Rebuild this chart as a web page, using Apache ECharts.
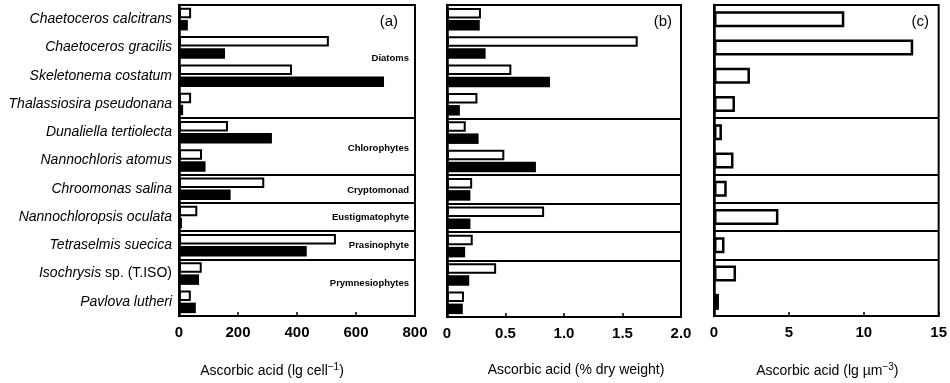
<!DOCTYPE html>
<html>
<head>
<meta charset="utf-8">
<script src="https://cdn.jsdelivr.net/npm/echarts@6/dist/echarts.min.js"></script>
<style>html,body{margin:0;padding:0;background:#fff}#c{width:950px;height:383px}</style>
</head>
<body>
<div id="c"></div>
<script>
const categories = [
  'Chaetoceros calcitrans', 'Chaetoceros gracilis', 'Skeletonema costatum',
  'Thalassiosira pseudonana', 'Dunaliella tertiolecta', 'Nannochloris atomus',
  'Chroomonas salina', 'Nannochloropsis oculata', 'Tetraselmis suecica',
  'Isochrysis sp. (T.ISO)', 'Pavlova lutheri'
];
// panel (a): ascorbic acid per cell
const cellOpen   = [41, 508, 383, 41, 166, 78, 289, 62, 532, 77, 40];
const cellFilled = [30, 156, 695, 14, 315, 90, 175, 10, 433, 68, 57];
// panel (b): % dry weight
const dryOpen    = [0.29, 1.63, 0.55, 0.26, 0.16, 0.49, 0.215, 0.83, 0.22, 0.42, 0.145];
const dryFilled  = [0.28, 0.33, 0.88, 0.11, 0.27, 0.76, 0.20, 0.20, 0.155, 0.19, 0.135];
// panel (c): per cell volume
const volOpen    = [8.7, 13.3, 2.4, 1.4, 0.53, 1.3, 0.85, 4.3, 0.7, 1.47, 0.33];
// first category index of each new algal group (divider lines)
const groupStarts = [4, 6, 7, 8, 9];
const groupNames = ['Diatoms', 'Chlorophytes', 'Cryptomonad', 'Eustigmatophyte', 'Prasinophyte', 'Prymnesiophytes'];
const panelTags = ['(a)', '(b)', '(c)'];

const FONT = 'Liberation Sans, Arial, Helvetica, sans-serif';
const chart = echarts.init(document.getElementById('c'));

const grids = [
  {left: 179, width: 236, top: 5, height: 312},
  {left: 447, width: 234, top: 5, height: 312},
  {left: 714, width: 228, top: 5, height: 312}
].map(g => Object.assign(g, {show: true, borderColor: '#000', borderWidth: 2, backgroundColor: 'transparent'}));

function yAxis(gi, showLabels) {
  return {
    type: 'category', gridIndex: gi, data: categories, inverse: true,
    axisLine: {lineStyle: {color: '#000', width: 2.5}},
    axisTick: {show: false},
    axisLabel: showLabels ? {
      color: '#000', fontFamily: FONT, fontSize: 14, margin: 7,
      formatter: v => v.indexOf(' sp. ') > 0
        ? '{i|' + v.split(' sp. ')[0] + '}{n| sp. ' + v.split(' sp. ')[1] + '}'
        : '{i|' + v + '}',
      rich: {
        i: {fontStyle: 'italic', fontSize: 14, fontFamily: FONT, color: '#000'},
        n: {fontStyle: 'normal', fontSize: 14, fontFamily: FONT, color: '#000'}
      }
    } : {show: false},
    splitLine: {show: true, interval: (idx) => groupStarts.indexOf(idx) >= 0, lineStyle: {color: '#000', width: 2}}
  };
}

function xAxis(gi, max, interval, fmt, nameParts, pad) {
  return {
    type: 'value', gridIndex: gi, min: 0, max: max, interval: interval,
    axisLine: {show: true, lineStyle: {color: '#000', width: 2}},
    axisTick: {show: true, inside: true, length: 4, lineStyle: {color: '#000', width: 1.5}},
    splitLine: {show: false},
    axisLabel: {color: '#000', fontFamily: FONT, fontSize: 15, fontWeight: 'bold', margin: 9, formatter: fmt},
    name: '{n|' + nameParts[0] + '}' + (nameParts[1] ? '{s|' + nameParts[1] + '}{n|' + nameParts[2] + '}' : ''),
    nameLocation: 'middle', nameGap: 46,
    nameTextStyle: {
      padding: pad,
      rich: {
        n: {fontFamily: FONT, fontSize: 14, color: '#000'},
        s: {fontFamily: FONT, fontSize: 10, color: '#000', verticalAlign: 'top', padding: [0, 0, 8, 0]}
      }
    }
  };
}

const openStyle = {color: '#fff', borderColor: '#000', borderWidth: 2};
const filledStyle = {color: '#000'};

const option = {
  animation: false,
  backgroundColor: '#fff',
  grid: grids,
  xAxis: [
    xAxis(0, 800, 200, v => String(v), ['Ascorbic acid (lg cell', '\u22121', ')'], [0, 50, 0, 0]),
    xAxis(1, 2.0, 0.5, v => v === 0 ? '0' : v.toFixed(1), ['Ascorbic acid (% dry weight)'], [0, 0, 0, 24]),
    xAxis(2, 15, 5, v => String(v), ['Ascorbic acid (lg \u00b5m', '\u22123', ')'], [0, 0, 0, 2])
  ],
  yAxis: [yAxis(0, true), yAxis(1, false), yAxis(2, false)],
  series: [
    {name: 'open a', type: 'bar', xAxisIndex: 0, yAxisIndex: 0, data: cellOpen, barWidth: 10.5, barGap: '15%', itemStyle: openStyle},
    {name: 'filled a', type: 'bar', xAxisIndex: 0, yAxisIndex: 0, data: cellFilled, barWidth: 10.5, barGap: '15%', itemStyle: filledStyle},
    {name: 'open b', type: 'bar', xAxisIndex: 1, yAxisIndex: 1, data: dryOpen, barWidth: 10.5, barGap: '15%', itemStyle: openStyle},
    {name: 'filled b', type: 'bar', xAxisIndex: 1, yAxisIndex: 1, data: dryFilled, barWidth: 10.5, barGap: '15%', itemStyle: filledStyle},
    {name: 'open c', type: 'bar', xAxisIndex: 2, yAxisIndex: 2, data: volOpen, barWidth: 16, itemStyle: {color: '#fff', borderColor: '#000', borderWidth: 2.5}}
  ],
  graphic: [
    {type: 'text', x: 398, y: 22, style: {text: panelTags[0], font: '15px ' + FONT, fill: '#000', textAlign: 'right', textVerticalAlign: 'middle'}},
    {type: 'text', x: 672, y: 22, style: {text: panelTags[1], font: '15px ' + FONT, fill: '#000', textAlign: 'right', textVerticalAlign: 'middle'}},
    {type: 'text', x: 929, y: 22, style: {text: panelTags[2], font: '15px ' + FONT, fill: '#000', textAlign: 'right', textVerticalAlign: 'middle'}}
  ].concat([58, 148, 190, 217, 245, 283].map((y, i) => ({
    type: 'text', x: 409, y: y,
    style: {text: groupNames[i], font: 'bold 9.5px ' + FONT, fill: '#000', textAlign: 'right', textVerticalAlign: 'middle'}
  })))
};
chart.setOption(option);
</script>
</body>
</html>
